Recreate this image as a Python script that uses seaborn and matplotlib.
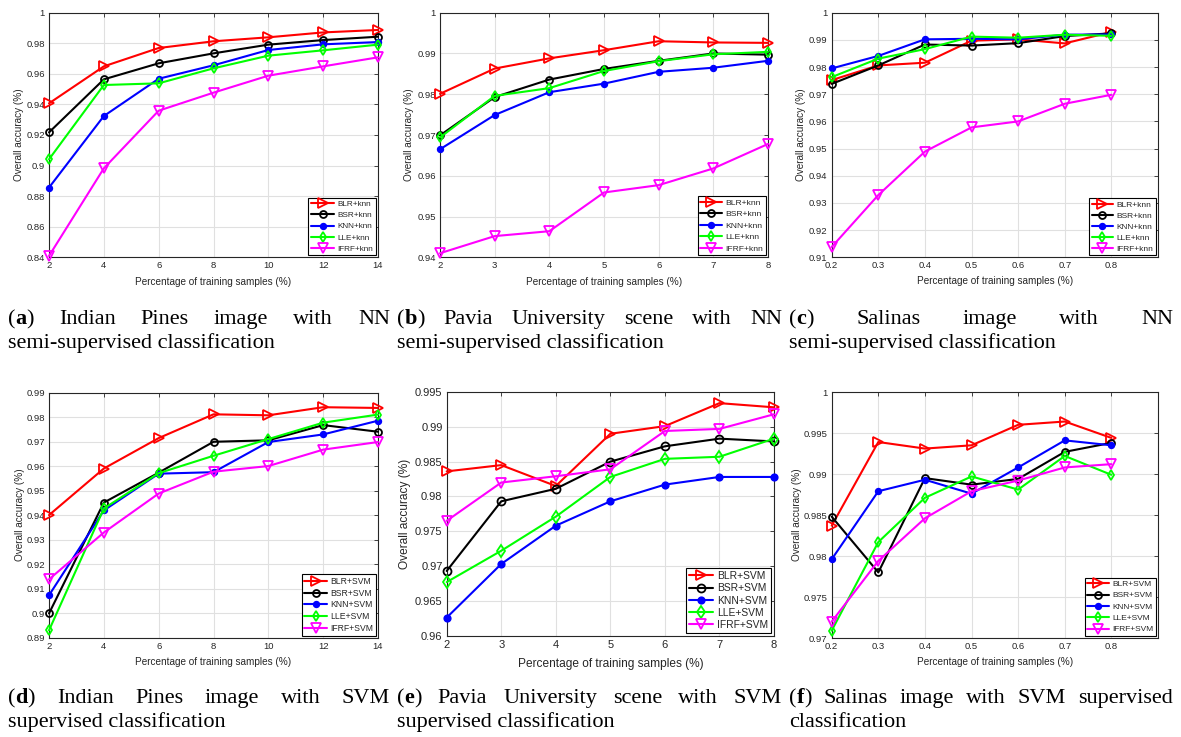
import numpy as np
import pandas as pd
import seaborn as sns
import matplotlib
matplotlib.use("Agg")
import matplotlib.pyplot as plt
from matplotlib.ticker import FuncFormatter, FixedLocator

sns.set_style("white")
plt.rcParams["font.family"] = ["Liberation Sans", "DejaVu Sans"]
SERIF = ["Liberation Serif", "DejaVu Serif"]

# ---- training-sample percentages ----
x_indian = [2, 4, 6, 8, 10, 12, 14]
x_pavia = [2, 3, 4, 5, 6, 7, 8]
x_salinas = [0.2, 0.3, 0.4, 0.5, 0.6, 0.7, 0.8]

# ---- (a) Indian Pines, NN ----
a_blr = [0.9407, 0.9649, 0.9769, 0.9813, 0.9839, 0.9871, 0.9887]
a_bsr = [0.9217, 0.9564, 0.9669, 0.9734, 0.9791, 0.9821, 0.9843]
a_knn = [0.8856, 0.9324, 0.9568, 0.9656, 0.9756, 0.9793, 0.9808]
a_lle = [0.9041, 0.9527, 0.9538, 0.9636, 0.9719, 0.9754, 0.9791]
a_ifrf = [0.8409, 0.8982, 0.9359, 0.9477, 0.9588, 0.9649, 0.9708]

# ---- (b) Pavia University, NN ----
b_blr = [0.9801, 0.9863, 0.9888, 0.9908, 0.9930, 0.9927, 0.9926]
b_bsr = [0.9699, 0.9793, 0.9836, 0.9862, 0.9882, 0.9900, 0.9897]
b_knn = [0.9665, 0.9749, 0.9805, 0.9826, 0.9855, 0.9865, 0.9882]
b_lle = [0.9694, 0.9796, 0.9815, 0.9857, 0.9881, 0.9898, 0.9904]
b_ifrf = [0.9410, 0.9452, 0.9464, 0.9559, 0.9577, 0.9618, 0.9678]

# ---- (c) Salinas, NN ----
c_blr = [0.9752, 0.9806, 0.9816, 0.9897, 0.9902, 0.9887, 0.9929]
c_bsr = [0.9738, 0.9806, 0.9883, 0.9879, 0.9888, 0.9914, 0.9924]
c_knn = [0.9795, 0.9841, 0.9902, 0.9904, 0.9902, 0.9919, 0.9920]
c_lle = [0.9763, 0.9831, 0.9866, 0.9912, 0.9908, 0.9919, 0.9915]
c_ifrf = [0.9138, 0.9329, 0.9489, 0.9578, 0.9600, 0.9665, 0.9698]

# ---- (d) Indian Pines, SVM ----
d_blr = [0.9400, 0.9590, 0.9714, 0.9811, 0.9807, 0.9840, 0.9837]
d_bsr = [0.8999, 0.9451, 0.9573, 0.9699, 0.9705, 0.9767, 0.9740]
d_knn = [0.9073, 0.9419, 0.9569, 0.9575, 0.9698, 0.9729, 0.9785]
d_lle = [0.8930, 0.9427, 0.9571, 0.9642, 0.9710, 0.9777, 0.9810]
d_ifrf = [0.9138, 0.9329, 0.9488, 0.9577, 0.9600, 0.9667, 0.9698]

# ---- (e) Pavia University, SVM ----
e_blr = [0.9836, 0.9845, 0.9815, 0.9890, 0.9901, 0.9934, 0.9928]
e_bsr = [0.9693, 0.9793, 0.9811, 0.9850, 0.9872, 0.9883, 0.9879]
e_knn = [0.9626, 0.9703, 0.9758, 0.9793, 0.9817, 0.9828, 0.9828]
e_lle = [0.9677, 0.9722, 0.9771, 0.9828, 0.9854, 0.9857, 0.9883]
e_ifrf = [0.9765, 0.9820, 0.9829, 0.9839, 0.9894, 0.9897, 0.9918]

# ---- (f) Salinas, SVM ----
f_blr = [0.9837, 0.9939, 0.9931, 0.9935, 0.9960, 0.9964, 0.9944]
f_bsr = [0.9848, 0.9780, 0.9895, 0.9887, 0.9894, 0.9927, 0.9938]
f_knn = [0.9796, 0.9879, 0.9893, 0.9876, 0.9908, 0.9941, 0.9935]
f_lle = [0.9709, 0.9817, 0.9871, 0.9897, 0.9881, 0.9922, 0.9899]
f_ifrf = [0.9720, 0.9794, 0.9846, 0.9879, 0.9892, 0.9908, 0.9912]

methods = ["BLR", "BSR", "KNN", "LLE", "IFRF"]
xlabel_text = "Percentage of training samples (%)"
ylabel_text = "Overall accuracy (%)"

captions = [
    ("a", "Indian Pines image with NN", "semi-supervised classification"),
    ("b", "Pavia University scene with NN", "semi-supervised classification"),
    ("c", "Salinas image with NN", "semi-supervised classification"),
    ("d", "Indian Pines image with SVM", "supervised classification"),
    ("e", "Pavia University scene with SVM", "supervised classification"),
    ("f", "Salinas image with SVM supervised", "classification"),
]

COLORS = {"BLR": "#ff0000", "BSR": "#000000", "KNN": "#0000ff",
          "LLE": "#00ff00", "IFRF": "#ff00ff"}
MARKERS = {"BLR": ">", "BSR": "o", "KNN": "o", "LLE": "d", "IFRF": "v"}
MSIZE = {"BLR": 6.5, "BSR": 5.0, "KNN": 4.0, "LLE": 5.5, "IFRF": 6.5}
INK = "#262626"

W, H = 1181, 737
fig = plt.figure(figsize=(W / 100, H / 100), dpi=100)


def px_rect(left, top, right, bottom):
    return [left / W, 1 - bottom / H, (right - left) / W, (bottom - top) / H]


panels = [
    dict(rect=px_rect(49, 12.7, 378, 257.3), x=x_indian,
         ys=[a_blr, a_bsr, a_knn, a_lle, a_ifrf], suffix="knn",
         xlim=(2, 14), xticks=x_indian, ylim=(0.84, 1.0), ystep=0.02,
         tick=6.8, lab=7.2, leg=5.9, lsp=0.42, hl=2.9, ms=1.0, ylx=19, xly=282),
    dict(rect=px_rect(440, 12.7, 768, 257.3), x=x_pavia,
         ys=[b_blr, b_bsr, b_knn, b_lle, b_ifrf], suffix="knn",
         xlim=(2, 8), xticks=x_pavia, ylim=(0.94, 1.0), ystep=0.01,
         tick=6.8, lab=7.2, leg=6.1, lsp=0.42, hl=2.6, ms=1.0, ylx=409, xly=282),
    dict(rect=px_rect(831.7, 12.7, 1158, 257.3), x=x_salinas,
         ys=[c_blr, c_bsr, c_knn, c_lle, c_ifrf], suffix="knn",
         xlim=(0.2, 0.9), xticks=x_salinas, ylim=(0.91, 1.0), ystep=0.01,
         tick=6.8, lab=7.2, leg=6.0, lsp=0.38, hl=2.6, ms=1.0, ylx=801, xly=281),
    dict(rect=px_rect(49, 392.5, 378, 637.7), x=x_indian,
         ys=[d_blr, d_bsr, d_knn, d_lle, d_ifrf], suffix="SVM",
         xlim=(2, 14), xticks=x_indian, ylim=(0.89, 0.99), ystep=0.01,
         tick=6.8, lab=7.2, leg=6.2, lsp=0.32, hl=2.6, ms=1.0, ylx=20, xly=662),
    dict(rect=px_rect(446.7, 392, 774, 635.7), x=x_pavia,
         ys=[e_blr, e_bsr, e_knn, e_lle, e_ifrf], suffix="SVM",
         xlim=(2, 8), xticks=x_pavia, ylim=(0.96, 0.995), ystep=0.005,
         tick=8.0, lab=8.6, leg=7.4, lsp=0.22, hl=2.3, ms=1.15, ylx=406, xly=663),
    dict(rect=px_rect(831.7, 392, 1158, 638), x=x_salinas,
         ys=[f_blr, f_bsr, f_knn, f_lle, f_ifrf], suffix="SVM",
         xlim=(0.2, 0.9), xticks=x_salinas, ylim=(0.97, 1.0), ystep=0.005,
         tick=6.8, lab=7.2, leg=6.0, lsp=0.42, hl=2.6, ms=1.0, ylx=797, xly=662),
]

fmt = FuncFormatter(lambda v, p: f"{v:g}")

for p in panels:
    ax = fig.add_axes(p["rect"])
    frames = []
    for m, y in zip(methods, p["ys"]):
        frames.append(pd.DataFrame({"pct": p["x"], "acc": y,
                                    "method": f"{m}+{p['suffix']}"}))
    df = pd.concat(frames, ignore_index=True)
    for m in methods:
        name = f"{m}+{p['suffix']}"
        c = COLORS[m]
        face = c if m == "KNN" else "none"
        sns.lineplot(data=df[df["method"] == name], x="pct", y="acc", ax=ax,
                     color=c, linewidth=1.5, marker=MARKERS[m],
                     markersize=MSIZE[m] * p["ms"], markerfacecolor=face,
                     markeredgecolor=c, markeredgewidth=1.3, label=name,
                     clip_on=False, zorder=3)

    lo, hi = p["ylim"]
    yt = np.round(np.arange(lo, hi + p["ystep"] / 2, p["ystep"]), 4)
    ax.set_xlim(*p["xlim"])
    ax.set_ylim(lo, hi)
    ax.xaxis.set_major_locator(FixedLocator(p["xticks"]))
    ax.yaxis.set_major_locator(FixedLocator(yt))
    ax.xaxis.set_major_formatter(fmt)
    ax.yaxis.set_major_formatter(fmt)
    ax.grid(True, color="#e0e0e0", linewidth=0.8)
    ax.set_axisbelow(True)
    for s in ax.spines.values():
        s.set_visible(True)
        s.set_color(INK)
        s.set_linewidth(0.8)
    ax.tick_params(direction="in", length=3, width=0.6, top=True, right=True,
                   labelsize=p["tick"], colors=INK, pad=3)

    ax.set_xlabel(xlabel_text, fontsize=p["lab"], color=INK)
    ax.set_ylabel(ylabel_text, fontsize=p["lab"], color=INK)
    l, b, w, h = p["rect"]
    ax_left_px, ax_w_px = l * W, w * W
    ax_bot_px, ax_h_px = (1 - b) * H, h * H
    ax.yaxis.set_label_coords((p["ylx"] + 5 - ax_left_px) / ax_w_px, 0.5)
    ax.xaxis.set_label_coords(0.5, (ax_bot_px - (p["xly"] - 5)) / ax_h_px)

    leg = ax.legend(loc="lower right", fontsize=p["leg"], frameon=True,
                    fancybox=False, framealpha=1, edgecolor="black",
                    borderaxespad=0.25, borderpad=0.3, handlelength=p["hl"],
                    handletextpad=0.4, labelspacing=p["lsp"])
    leg.get_frame().set_linewidth(0.8)

# ---- justified captions below each panel ----
renderer = fig.canvas.get_renderer()
CAP_SIZE = 16


def put(txt, x, y, weight="normal"):
    t = fig.text(x / W, 1 - y / H, txt, fontsize=CAP_SIZE, family=SERIF,
                 fontweight=weight, va="baseline", ha="left", color="black")
    return t


def width(t):
    return t.get_window_extent(renderer).width


def caption(letter, line1, line2, x0, x1, y1, y2):
    words = [[("(", "normal"), (letter, "bold"), (")", "normal")]]
    words += [[(wd, "normal")] for wd in line1.split()]
    objs, widths = [], []
    for pieces in words:
        ts = [put(s, 0, y1, wt) for s, wt in pieces]
        objs.append(ts)
        widths.append([width(t) for t in ts])
    total = sum(sum(ws) for ws in widths)
    gap = (x1 - x0 - total) / (len(words) - 1)
    x = x0
    for ts, ws in zip(objs, widths):
        for t, w in zip(ts, ws):
            t.set_position((x / W, 1 - y1 / H))
            x += w
        x += gap
    put(line2, x0, y2)


cols = [(8, 390), (397, 782), (789, 1173)]
for i, (letter, l1, l2) in enumerate(captions):
    x0, x1 = cols[i % 3]
    if i < 3:
        caption(letter, l1, l2, x0, x1, 324, 348)
    else:
        caption(letter, l1, l2, x0, x1, 703, 727)

fig.savefig("out.png", dpi=100, facecolor="white")
